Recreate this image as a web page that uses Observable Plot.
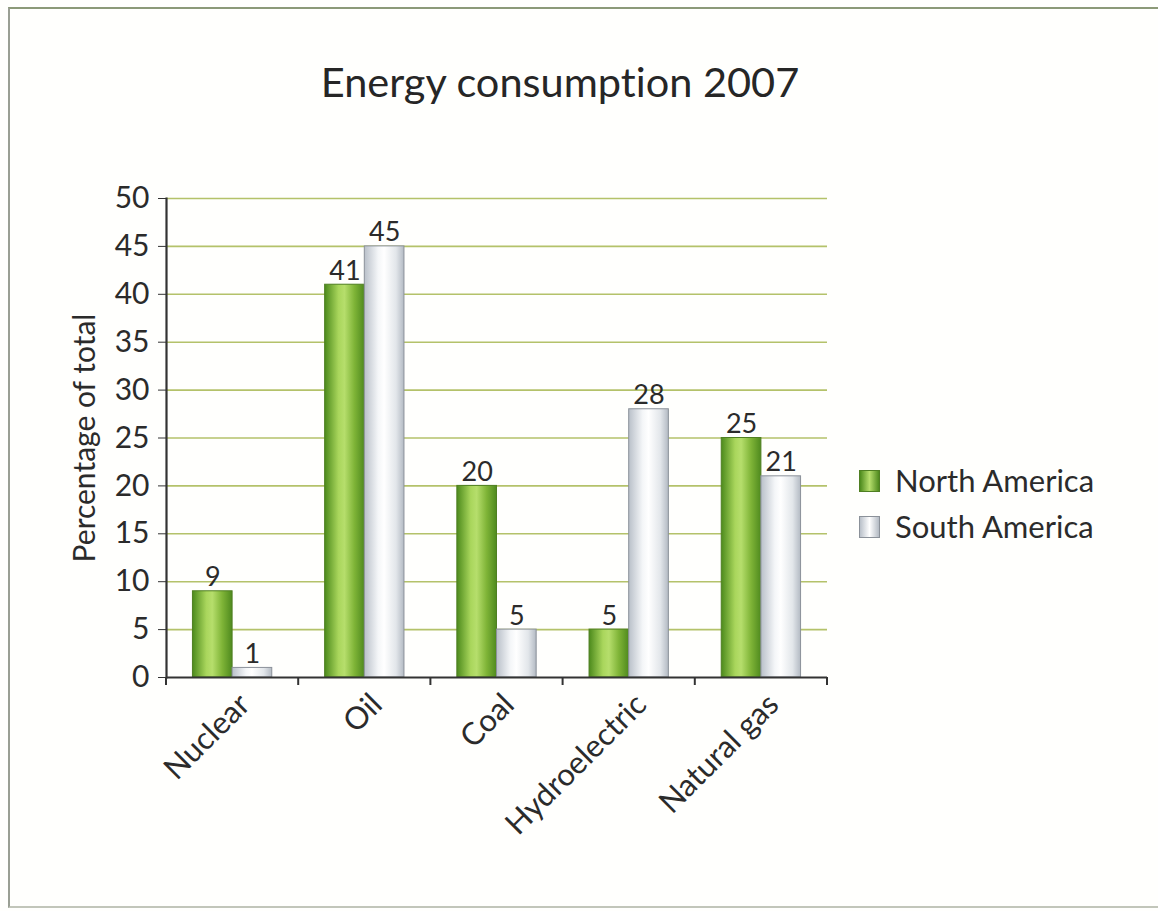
<!DOCTYPE html>
<html>
<head>
<meta charset="utf-8">
<script src="https://cdn.jsdelivr.net/npm/d3@7"></script>
<script src="https://cdn.jsdelivr.net/npm/@observablehq/plot@0.6"></script>
<style>
  html, body { margin: 0; padding: 0; background: #fff; }
  #page { position: relative; width: 1158px; height: 911px; overflow: hidden; background: #fffffd; font-family: Lato, "Open Sans", sans-serif; color: #2b2b2b; font-variant-ligatures: none; }
  #frame { position: absolute; left: 8px; top: 7px; width: 1160px; height: 901px; box-sizing: border-box;
    border-top: 2px solid #8c9a78; border-left: 2px solid #9a9f94; border-bottom: 2px solid #c2c6ba; }
  #title { position: absolute; left: 0; width: 1120px; top: 56px; text-align: center; font-size: 41.5px; color: #262626; }
  #chart { position: absolute; left: 0; top: 0; }
  #chart svg text { font-variant-ligatures: none; }
  .leg { position: absolute; left: 859px; font-size: 31px; line-height: 37px; color: #2b2b2b; display: flex; align-items: center; }
  .sw { width: 21px; height: 22px; box-sizing: border-box; margin-right: 15px; }
</style>
</head>
<body>
<div id="page">
  <div id="frame"></div>
  <div id="chart"></div>
  <div id="title"></div>
  <div id="legend"></div>
</div>
<script>
const titleText = "Energy consumption 2007";
const yLabel = "Percentage of total";
const categories = ["Nuclear", "Oil", "Coal", "Hydroelectric", "Natural gas"];
const seriesNames = ["North America", "South America"];
const northAmerica = [9, 41, 20, 5, 25];
const southAmerica = [1, 45, 5, 28, 21];
const yTicks = [0, 5, 10, 15, 20, 25, 30, 35, 40, 45, 50];

const seriesValues = [northAmerica, southAmerica];
const data = categories.flatMap((c, i) => seriesNames.map((s, j) => ({category: c, series: s, value: seriesValues[j][i]})));
const fills = ["url(#gradNA)", "url(#gradSA)"];
const strokes = ["#4f7f22", "#8b9199"];

document.getElementById("title").textContent = titleText;

const W = 1158, H = 911, mL = 166, mR = 331, mT = 198, mB = 234;
const pInner = 0.4, pOuter = 0.2;
// half of the band width, derived from the band scale settings
const halfBand = ((W - mL - mR) / (categories.length - pInner + 2 * pOuter)) * (1 - pInner) / 2;

const chart = Plot.plot({
  width: W,
  height: H,
  marginTop: mT,
  marginBottom: mB,
  marginLeft: mL,
  marginRight: mR,
  style: {fontFamily: "Lato, 'Open Sans', sans-serif", fontSize: "27px", color: "#2b2b2b", background: "transparent", overflow: "visible"},
  x: {domain: categories, paddingInner: pInner, paddingOuter: pOuter, round: false, label: null},
  y: {domain: [0, 50], label: null},
  marks: [
    Plot.gridY(yTicks.filter(d => d > 0), {stroke: "#b4c26a", strokeOpacity: 1, strokeWidth: 1.6}),
    ...seriesNames.map((s, j) =>
      Plot.barY(data.filter(d => d.series === s), {
        x: "category", y: "value", fill: fills[j], stroke: strokes[j], strokeWidth: 1,
        insetLeft: j === 0 ? 0 : halfBand, insetRight: j === 0 ? halfBand : 0
      })
    ),
    ...seriesNames.map((s, j) =>
      Plot.text(data.filter(d => d.series === s), {
        x: "category", y: "value", text: d => String(d.value), lineAnchor: "bottom",
        dx: (j === 0 ? -1 : 1) * halfBand / 2, dy: -5, fontSize: 27, fill: "#2b2b2b"
      })
    ),
    Plot.axisY(yTicks, {anchor: "left", tickSize: 8, tickPadding: 9, fontSize: 30, stroke: "#333", fill: "#2b2b2b",
      label: yLabel, labelAnchor: "center", labelOffset: 93, labelArrow: "none"}),
    Plot.axisX({anchor: "bottom", tickRotate: -45, tickSize: 0, tickPadding: 10, dx: 12, dy: 12, fontSize: 31, fill: "#2b2b2b", label: null}),
    Plot.ruleY([0], {stroke: "#333", strokeWidth: 2.2}),
    Plot.frame({anchor: "left", stroke: "#333", strokeWidth: 2.2})
  ]
});

// the y-axis title is larger than the tick labels
d3.select(chart).selectAll("g[aria-label='y-axis label'] text").attr("font-size", 30);

// gradients referenced by the bar fills
const svg = d3.select(chart);
const defs = svg.insert("defs", ":first-child");
const gNA = defs.append("linearGradient").attr("id", "gradNA").attr("x1", "0").attr("x2", "1").attr("y1", "0").attr("y2", "0");
[[0, "#4c8a1c"], [0.35, "#a9d65c"], [0.5, "#b6de6c"], [0.75, "#7fb437"], [1, "#4f8a1e"]].forEach(([o, c]) => gNA.append("stop").attr("offset", o).attr("stop-color", c));
const gSA = defs.append("linearGradient").attr("id", "gradSA").attr("x1", "0").attr("x2", "1").attr("y1", "0").attr("y2", "0");
[[0, "#b9c0c9"], [0.35, "#f4f6f8"], [0.5, "#ffffff"], [0.8, "#e2e6ea"], [1, "#b3bac3"]].forEach(([o, c]) => gSA.append("stop").attr("offset", o).attr("stop-color", c));

// small ticks at the category band boundaries, from Plot's x scale
const xs = chart.scale("x");
const ys = chart.scale("y");
const band = d3.scaleBand(xs.domain, xs.range).paddingInner(xs.paddingInner).paddingOuter(xs.paddingOuter).align(xs.align ?? 0.5);
const half = band.step() * band.paddingInner() / 2;
const bounds = categories.map(c => band(c) - half).concat([band(categories[categories.length - 1]) + band.bandwidth() + half]);
const y0 = ys.apply(0);
svg.append("g").selectAll("line").data(bounds).join("line")
  .attr("x1", d => d).attr("x2", d => d).attr("y1", y0).attr("y2", y0 + 8)
  .attr("stroke", "#333").attr("stroke-width", 2);

document.getElementById("chart").appendChild(chart);

// legend
const legend = document.getElementById("legend");
const swatchBg = ["linear-gradient(90deg,#4c8a1c,#b6de6c 50%,#4f8a1e)", "linear-gradient(90deg,#b9c0c9,#ffffff 50%,#b3bac3)"];
const legTops = [462, 508];
seriesNames.forEach((s, j) => {
  const row = document.createElement("div");
  row.className = "leg";
  row.style.top = legTops[j] + "px";
  const sw = document.createElement("div");
  sw.className = "sw";
  sw.style.background = swatchBg[j];
  sw.style.border = "1px solid " + strokes[j];
  row.appendChild(sw);
  const t = document.createElement("span");
  t.textContent = s;
  row.appendChild(t);
  legend.appendChild(row);
});
</script>
</body>
</html>
